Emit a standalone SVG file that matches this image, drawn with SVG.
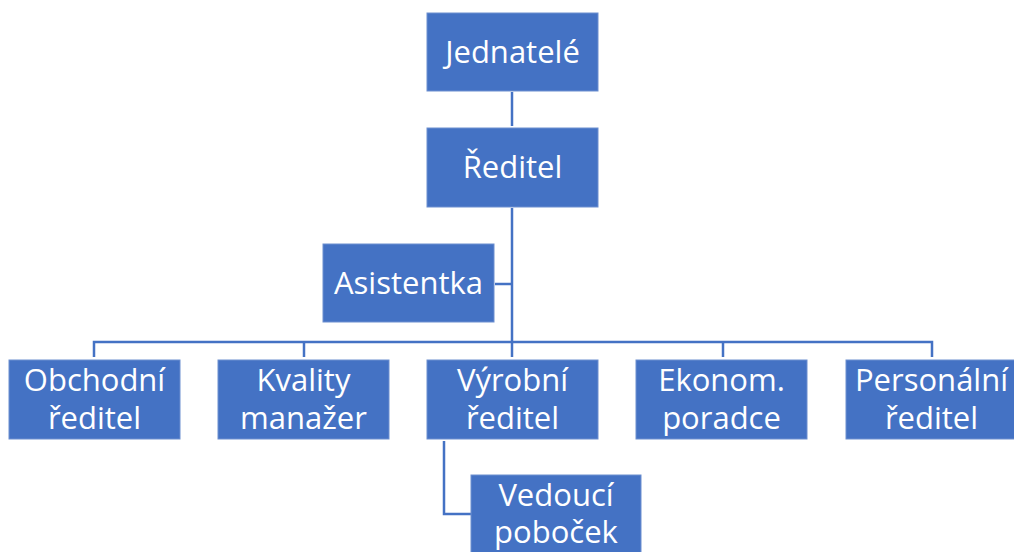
<svg xmlns="http://www.w3.org/2000/svg" width="1014" height="552" viewBox="0 0 1014 552">
<style>
.box{fill:#4472C4;stroke:#6d8fd0;stroke-width:1}
.t{fill:#ffffff;font-family:"Open Sans","Noto Sans",sans-serif;font-size:31px;text-anchor:middle}
.c{fill:none;stroke:#4472C4;stroke-width:2.5}
</style>
<rect width="1014" height="552" fill="#ffffff"/>
<g id="connectors">
<line class="c" x1="512" y1="92" x2="512" y2="126"/>
<line class="c" x1="512" y1="208" x2="512" y2="357"/>
<line class="c" x1="495" y1="284" x2="512" y2="284"/>
<polyline class="c" points="94,357 94,342 932,342 932,357"/>
<line class="c" x1="304" y1="342" x2="304" y2="357"/>
<line class="c" x1="723" y1="342" x2="723" y2="357"/>
<polyline class="c" points="444,441 444,514 471,514"/>
</g>
<g id="jednatele"><rect class="box" x="427" y="13" width="171" height="78"/><text class="t" x="512.5" y="63">Jednatelé</text></g>
<g id="reditel"><rect class="box" x="427" y="128" width="171" height="79"/><text class="t" x="512.5" y="178">Ředitel</text></g>
<g id="asistentka"><rect class="box" x="323" y="244" width="171" height="78"/><text class="t" x="408.5" y="294">Asistentka</text></g>
<g id="obchodni"><rect class="box" x="9" y="360" width="171" height="79"/><text class="t" x="94.5" y="391">Obchodní</text><text class="t" x="94.5" y="429">ředitel</text></g>
<g id="kvality"><rect class="box" x="218" y="360" width="171" height="79"/><text class="t" x="303.5" y="391">Kvality</text><text class="t" x="303.5" y="429">manažer</text></g>
<g id="vyrobni"><rect class="box" x="427" y="360" width="171" height="79"/><text class="t" x="512.5" y="391">Výrobní</text><text class="t" x="512.5" y="429">ředitel</text></g>
<g id="ekonom"><rect class="box" x="636" y="360" width="171" height="79"/><text class="t" x="721.5" y="391">Ekonom.</text><text class="t" x="721.5" y="429">poradce</text></g>
<g id="personalni"><rect class="box" x="846" y="360" width="171" height="79"/><text class="t" x="931.5" y="391">Personální</text><text class="t" x="931.5" y="429">ředitel</text></g>
<g id="vedouci"><rect class="box" x="471" y="475" width="170" height="80"/><text class="t" x="556" y="506">Vedoucí</text><text class="t" x="556" y="543">poboček</text></g>
</svg>
